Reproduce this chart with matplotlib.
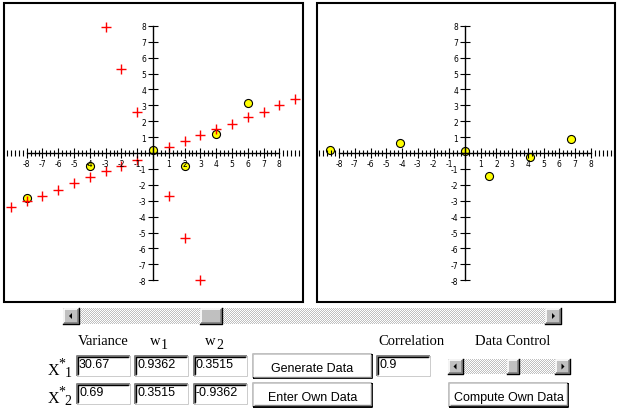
import numpy as np
import matplotlib
matplotlib.use('Agg')
import matplotlib.pyplot as plt
from matplotlib.patches import Rectangle, Polygon
from matplotlib.ticker import FixedLocator, MultipleLocator

plt.rcParams['axes.unicode_minus'] = False

# centred data points (left panel, yellow)
data_x = [0, 4, 6, -4, 2, -8]
data_y = [0.2, 1.2, 3.15, -0.8, -0.8, -2.83]

# points along the first principal direction (red +)
pc1_x = [-9, -8, -7, -6, -5, -4, -3, -2, -1, 1, 2, 3, 4, 5, 6, 7, 8, 9]
pc1_y = [-3.4, -3.03, -2.69, -2.3, -1.91, -1.53, -1.15, -0.8, -0.44,
         0.4, 0.73, 1.11, 1.51, 1.84, 2.24, 2.6, 3.0, 3.38]

# points along the second principal direction (red +)
pc2_x = [-3, -2, -1, 1, 2, 3]
pc2_y = [7.92, 5.26, 2.6, -2.68, -5.33, -8.0]

# data in principal component coordinates (right panel)
score_x = [-8.58, -4.13, 0.0, 1.55, 4.13, 6.76]
score_y = [0.19, 0.63, 0.14, -1.45, -0.27, 0.89]

ticks = list(range(-8, 9))
tick_labels = ['' if t == 0 else str(t) for t in ticks]

# table under the plots
row_subs = ['1', '2']
variance = ['30.67', '0.69']
w1 = ['0.9362', '0.3515']
w2 = ['0.3515', '-0.9362']
correlation = '0.9'

W, H = 620, 414
fig = plt.figure(figsize=(6.2, 4.14), dpi=100)
fig.patch.set_facecolor('white')

SERIF = 'Liberation Serif'
NARROW = ['Liberation Sans Narrow', 'Liberation Sans']


def px_axes(x0, y0, x1, y1):
    return fig.add_axes([x0 / W, 1 - y1 / H, (x1 - x0) / W, (y1 - y0) / H])


def panel(box, origin, scale):
    x0, y0, x1, y1 = box
    ox, oy = origin
    sx, sy = scale
    ax = px_axes(x0, y0, x1, y1)
    ax.set_xlim((x0 - ox) / sx, (x1 - ox) / sx)
    ax.set_ylim((oy - y1) / sy, (oy - y0) / sy)
    ax.set_axisbelow(False)
    for s in ['top', 'right']:
        ax.spines[s].set_visible(False)
    for s in ['left', 'bottom']:
        ax.spines[s].set_position(('data', 0))
        ax.spines[s].set_bounds(-8, 8)
        ax.spines[s].set_linewidth(1.0)
    ax.xaxis.set_major_locator(FixedLocator(ticks))
    ax.yaxis.set_major_locator(FixedLocator(ticks))
    ax.set_xticklabels(tick_labels)
    ax.set_yticklabels(tick_labels, va='center_baseline')
    ax.xaxis.set_minor_locator(MultipleLocator(0.25))
    ax.tick_params(axis='x', which='major', direction='inout', length=6.5,
                   width=0.8, pad=0.8, labelsize=5.5)
    ax.tick_params(axis='x', which='minor', direction='inout', length=4.3,
                   width=0.8)
    ax.tick_params(axis='y', which='major', direction='inout', length=7.2,
                   width=0.8, pad=1.2, labelsize=5.5)
    ax.add_patch(Rectangle((0, 0), 1, 1, transform=ax.transAxes, fill=False,
                           ec='black', lw=1.5, clip_on=False))
    return ax


ax1 = panel((4, 4, 303, 303), (153, 154), (15.79, 15.9))
ax1.plot(data_x, data_y, 'o', ms=5.8, mfc='#ffff00', mec='black', mew=0.8,
         zorder=2)
ax1.plot(pc1_x, pc1_y, '+', color='#ff0000', ms=6.8, mew=1.0, zorder=2.2)
ax1.plot(pc2_x, pc2_y, '+', color='#ff0000', ms=6.8, mew=1.0, zorder=2.2)

ax2 = panel((317, 4, 615, 303), (465, 154), (15.73, 15.9))
ax2.plot(score_x, score_y, 'o', ms=5.8, mfc='#ffff00', mec='black', mew=0.8,
         zorder=2)

# widgets drawn in pixel coordinates
ui = fig.add_axes([0, 0, 1, 1])
ui.set_xlim(0, W)
ui.set_ylim(H, 0)
ui.axis('off')
ui.set_zorder(-1)


def edge(x0, y0, x1, y1, tl, br, lw=1.2):
    ui.plot([x0, x0, x1], [y1, y0, y0], color=tl, lw=lw, solid_capstyle='butt')
    ui.plot([x0, x1, x1], [y1, y1, y0], color=br, lw=lw, solid_capstyle='butt')


def raised(x0, y0, x1, y1, face='#c0c0c0'):
    ui.add_patch(Rectangle((x0, y0), x1 - x0, y1 - y0, fc=face, ec='none'))
    edge(x0 + 1, y0 + 1, x1 - 1, y1 - 1, 'white', '#808080')
    ui.plot([x0, x1, x1], [y1, y1, y0], color='black', lw=1.0)


def scrollbar(x0, y0, x1, y1, thumb):
    n_w, n_h = int(x1 - x0), int(y1 - y0)
    chk = (np.indices((n_h, n_w)).sum(axis=0) % 2).astype(float)
    img = np.where(chk[..., None] > 0, [1, 1, 1], [0.75, 0.75, 0.75])
    ui.imshow(img, extent=(x0, x1, y1, y0), interpolation='nearest',
              aspect='auto')
    a = y1 - y0
    raised(x0, y0, x0 + a, y1)
    raised(x1 - a, y0, x1, y1)
    raised(thumb[0], y0, thumb[1], y1)
    cy = (y0 + y1) / 2
    cxl = x0 + a / 2
    cxr = x1 - a / 2
    ui.add_patch(Polygon([(cxl - 2, cy), (cxl + 1, cy - 3), (cxl + 1, cy + 3)],
                         fc='black', ec='none'))
    ui.add_patch(Polygon([(cxr + 2, cy), (cxr - 1, cy - 3), (cxr - 1, cy + 3)],
                         fc='black', ec='none'))


def textbox(x0, y0, x1, y1, txt):
    ui.add_patch(Rectangle((x0, y0), x1 - x0, y1 - y0, fc='white', ec='none'))
    edge(x0, y0, x1, y1, '#808080', '#c0c0c0', lw=1.4)
    edge(x0 + 1, y0 + 1, x1 - 1, y1 - 1, 'black', 'white', lw=1.0)
    ui.text(x0 + 2, y0 + 11.5, txt, family=NARROW, fontsize=9,
            ha='left', va='baseline')


def button(x0, y0, x1, y1, txt):
    ui.add_patch(Rectangle((x0, y0), x1 - x0, y1 - y0, fc='white', ec='none'))
    edge(x0, y0, x1, y1, '#c0c0c0', 'black', lw=1.4)
    edge(x0 + 1, y0 + 1, x1 - 1.5, y1 - 1.5, 'white', '#808080', lw=1.0)
    ui.text((x0 + x1) / 2, (y0 + y1) / 2 + 2.5, txt, family=NARROW,
            fontsize=9, ha='center', va='center')


scrollbar(63, 309, 561, 325, (200, 222))
scrollbar(448, 360, 570, 375, (507, 519))

ui.text(103, 345, 'Variance', family=SERIF, fontsize=10.5, ha='center',
        va='baseline')
ui.text(155, 345, 'w', family=SERIF, fontsize=10.5, ha='center', va='baseline')
ui.text(164, 349, '1', family=SERIF, fontsize=10, ha='center', va='baseline')
ui.text(210, 345, 'w', family=SERIF, fontsize=10.5, ha='center', va='baseline')
ui.text(220, 349, '2', family=SERIF, fontsize=10, ha='center', va='baseline')
ui.text(411, 345, 'Correlation', family=SERIF, fontsize=10.5, ha='center',
        va='baseline')
ui.text(512.5, 345, 'Data Control', family=SERIF, fontsize=10.5, ha='center',
        va='baseline')

row_y = [357, 385]
for i in range(2):
    y0 = row_y[i]
    ui.text(53, y0 + 18, 'X', family=SERIF, fontsize=11.5, ha='center',
            va='baseline')
    ui.text(62, y0 + 11, '*', family=SERIF, fontsize=10, ha='center',
            va='baseline')
    ui.text(68, y0 + 20.5, row_subs[i], family=SERIF, fontsize=10,
            ha='center', va='baseline')
    textbox(77, y0, 130, y0 + 20, variance[i])
    textbox(135, y0, 188, y0 + 20, w1[i])
    textbox(194, y0, 247, y0 + 20, w2[i])

button(253, 355, 372, 379, 'Generate Data')
button(253, 384, 372, 408, 'Enter Own Data')
button(449, 384, 568, 408, 'Compute Own Data')
textbox(377, 357, 430, 377, correlation)

fig.savefig('out.png', dpi=100, facecolor='white')
